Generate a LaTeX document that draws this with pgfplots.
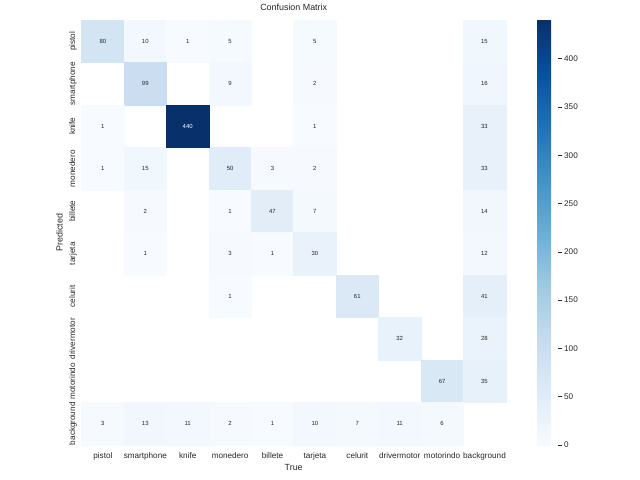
\documentclass[border=0pt]{standalone}
\usepackage{pgfplots}
\pgfplotsset{compat=1.18}
\usepackage{fontspec}
\setmainfont{Liberation Sans}
\definecolor{txt}{HTML}{262626}
\pgfplotsset{
  colormap={blues}{rgb255=(247,251,255) rgb255=(222,235,247) rgb255=(198,219,239)
    rgb255=(158,202,225) rgb255=(107,174,214) rgb255=(66,146,198)
    rgb255=(33,113,181) rgb255=(8,81,156) rgb255=(8,48,107)},
  /pgf/number format/assume math mode=true,
}
\newcommand\tickfont{\fontsize{8.15bp}{9.8bp}\selectfont}
\newcommand\labfont{\fontsize{8.9bp}{10.7bp}\selectfont}
\newcommand\annfont{\fontsize{5.95bp}{7bp}\selectfont}
\pgfplotstableread{
x y v
0 0 80
1 0 10
2 0 1
3 0 5
5 0 5
9 0 15
1 1 99
3 1 9
5 1 2
9 1 16
0 2 1
5 2 1
9 2 33
0 3 1
1 3 15
3 3 50
4 3 3
5 3 2
9 3 33
1 4 2
3 4 1
4 4 47
5 4 7
9 4 14
1 5 1
3 5 3
4 5 1
5 5 30
9 5 12
3 6 1
6 6 61
9 6 41
7 7 32
9 7 28
8 8 67
9 8 35
0 9 3
1 9 13
2 9 11
3 9 2
4 9 1
5 9 10
6 9 7
7 9 11
8 9 6
}\cells
\pgfplotstableread{
x y v
2 2 440
}\darkcells
\begin{document}
\begin{tikzpicture}
\path[use as bounding box] (0,0) rectangle (640bp,480bp);
\begin{axis}[
  at={(81.7bp,35bp)}, anchor=south west,
  scale only axis, width=424bp, height=425bp,
  xmin=-0.5, xmax=9.5, ymin=-0.5, ymax=9.5,
  y dir=reverse,
  axis line style={draw=none},
  major tick length=0pt,
  xtick={0,...,9}, ytick={0,...,9},
  xticklabels={pistol,smartphone,knife,monedero,billete,tarjeta,celurit,drivermotor,motorindo,background},
  yticklabels={pistol,smartphone,knife,monedero,billete,tarjeta,celurit,drivermotor,motorindo,background},
  xticklabel style={font=\tickfont, text=txt, anchor=base, yshift=-13bp},
  yticklabel style={font=\tickfont, text=txt, rotate=90, anchor=south,
    text height=0.75em, text depth=0.21em, inner xsep=0pt, inner ysep=4.3bp},
  title={Confusion Matrix},
  title style={font=\labfont, text=txt, at={(0.5,1)}, anchor=base, yshift=3.8bp},
  xlabel={True},
  xlabel style={font=\labfont, text=txt, at={(axis description cs:0.5,0)}, anchor=base, yshift=-25bp},
  ylabel={Predicted},
  ylabel style={font=\labfont, text=txt, at={(axis description cs:-0.0448,0.5)}, anchor=south,
    inner sep=0pt, text depth=0pt},
  colormap name=blues,
  point meta min=0, point meta max=440,
  colorbar,
  colorbar shift/.style={xshift=0pt},
  colorbar style={
    at={(parent axis.north east)}, anchor=north west, xshift=31.3bp,
    scale only axis, width=21bp, height=425bp,
    ymin=0, ymax=440,
    ytick={0,50,...,400},
    ytick pos=right,
    yticklabel pos=right,
    tick align=outside,
    major tick length=3.5bp,
    tick style={color=txt, line width=0.6bp},
    axis line style={draw=none},
    yticklabel style={font=\tickfont, text=txt, inner xsep=2.5bp},
  },
]
% cells
\addplot[scatter, only marks, mark=square*, mark size=21.3bp,
  scatter src=explicit,
  scatter/use mapped color={draw=mapped color, fill=mapped color}]
  table[x=x, y=y, meta=v] {\cells};
\addplot[scatter, only marks, mark=square*, mark size=21.3bp,
  scatter src=explicit,
  scatter/use mapped color={draw=mapped color, fill=mapped color}]
  table[x=x, y=y, meta=v] {\darkcells};
% annotations
\addplot[only marks, mark=none, point meta=explicit,
  nodes near coords,
  every node near coord/.append style={anchor=center, font=\annfont, text=txt}]
  table[x=x, y=y, meta=v] {\cells};
\addplot[only marks, mark=none, point meta=explicit,
  nodes near coords,
  every node near coord/.append style={anchor=center, font=\annfont, text=white}]
  table[x=x, y=y, meta=v] {\darkcells};
\end{axis}
\end{tikzpicture}
\end{document}
